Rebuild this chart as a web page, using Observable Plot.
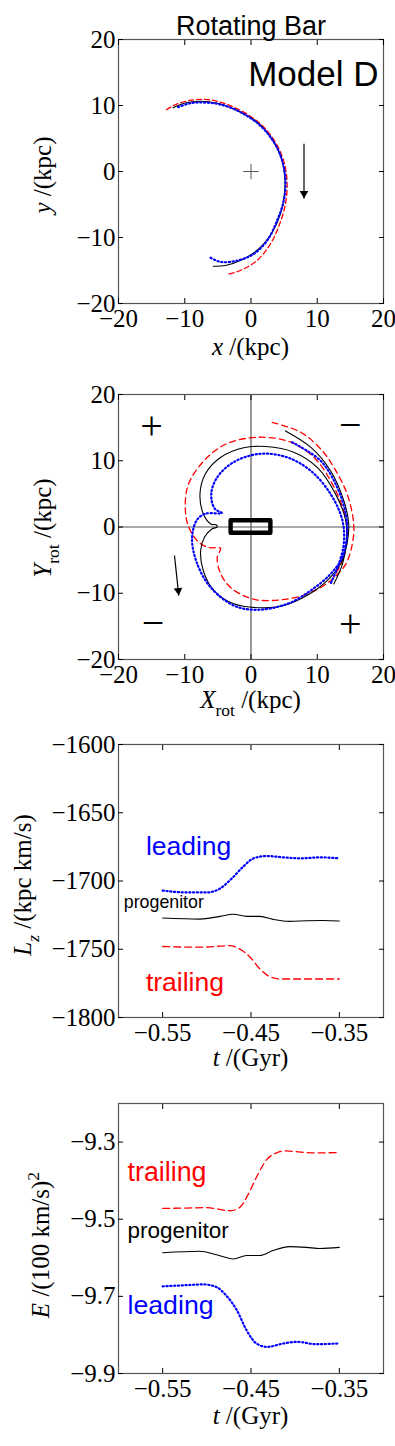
<!DOCTYPE html>
<html><head><meta charset="utf-8">
<script src="https://cdn.jsdelivr.net/npm/d3@7"></script>
<script src="https://cdn.jsdelivr.net/npm/@observablehq/plot@0.6"></script>
<style>
body{margin:0;background:#fff;}
#chart{width:395px;}
#chart svg{display:block;}
</style></head><body><div id="chart"></div>
<script>
// ---------- data ----------
const xyTicks = [-20, -10, 0, 10, 20];
const tTicks = [-0.55, -0.45, -0.35];
const lzTicks = [-1800, -1750, -1700, -1650, -1600];
const eTicks = [-9.9, -9.7, -9.5, -9.3];

// panel 1: inertial frame x-y (kpc)
const inertialProgenitor = [[-11.75,9.65],[-10.1,10.35],[-7.6,10.65],[-5.1,10.35],[-2.1,9.25],[0.9,7.5],[2.95,5.2],[4.45,2.4],[5.1,-0.85],[5.05,-3.4],[4.45,-6.4],[3.2,-9.2],[1.2,-11.7],[-1.6,-13.5],[-3.85,-14.25],[-5.7,-14.35]];
const inertialLeading = [[-11.0,9.75],[-9.1,10.35],[-7.1,10.45],[-4.6,10.15],[-1.6,9.0],[1.4,6.95],[3.45,4.45],[4.7,1.65],[5.2,-1.35],[4.95,-4.4],[3.95,-7.4],[2.45,-10.45],[0.4,-12.5],[-2.1,-13.5],[-4.6,-13.7],[-6.4,-12.9]];
const inertialTrailing = [[-12.75,9.35],[-11.15,10.25],[-8.6,10.85],[-6.1,10.85],[-3.6,10.15],[-0.6,8.7],[1.95,6.7],[3.95,3.95],[5.05,1.15],[5.45,-1.9],[5.2,-4.9],[4.35,-7.9],[2.95,-10.95],[0.9,-13.5],[-1.6,-15.0],[-3.7,-15.6]];
const centre = [[0, 0]];
const arrows1 = [{x1: 8, y1: 4.2, x2: 8, y2: -4.1}];

// panel 2: rotating frame X_rot-Y_rot (kpc)
const rotProgenitor = [[5.2,14.5],[9.0,12.05],[12.0,8.5],[14.0,4.0],[14.75,0.5],[14.5,-2.5],[13.5,-5.6],[11.5,-8.1],[8.5,-10.3],[4.95,-11.85],[1.9,-12.2],[-2.6,-11.6],[-5.6,-9.6],[-7.2,-6.6],[-7.6,-3.55],[-7.0,-1.5],[-5.9,-0.3],[-5.1,0.0],[-5.3,0.35],[-6.0,0.4],[-7.2,2.0],[-7.7,5.0],[-6.9,8.0],[-4.6,10.5],[-1.1,11.95],[2.2,12.15],[6.45,11.3],[10.0,9.0],[12.75,5.0],[14.3,1.0],[14.4,-2.5],[13.8,-5.6],[12.5,-8.6]];
const rotLeading = [[6.2,12.8],[10.5,10.0],[13.0,6.0],[14.3,2.0],[14.5,-1.0],[13.8,-4.55],[12.0,-7.1],[9.0,-9.6],[5.5,-11.6],[0.9,-12.5],[-2.6,-11.85],[-6.1,-9.1],[-8.1,-5.6],[-8.9,-1.8],[-8.2,1.0],[-6.9,2.0],[-4.4,2.1],[-5.5,2.8],[-6.0,5.0],[-5.1,7.5],[-2.6,9.8],[1.4,11.05],[5.5,10.5],[9.0,8.5],[12.0,5.0],[13.8,1.0],[14.0,-2.5],[13.25,-5.6],[12.0,-8.6]];
const rotTrailing = [[3.2,15.8],[7.5,14.3],[10.5,11.8],[12.5,9.0],[14.5,5.0],[15.5,0.5],[15.3,-2.5],[14.3,-5.6],[12.0,-8.1],[8.5,-10.1],[4.45,-11.0],[0.4,-10.9],[-3.0,-9.2],[-4.6,-7.0],[-5.1,-4.6],[-4.6,-3.2],[-6.4,-3.1],[-8.0,-2.2],[-9.4,0.0],[-9.9,2.5],[-9.5,6.3],[-7.1,10.0],[-3.6,12.6],[1.4,13.55],[6.0,12.8],[9.5,10.5],[12.0,7.0],[14.0,2.5],[14.5,-0.5],[14.0,-4.55],[12.5,-7.6]];
const bar = [{x1: -3.0, x2: 3.0, y1: -0.95, y2: 0.95}];
const signs = [{x: -15, y: 15.2, s: "+"}, {x: 15, y: 15.3, s: "\u2212"}, {x: -14.8, y: -14.5, s: "\u2212"}, {x: 15, y: -14.6, s: "+"}];
const arrows2 = [{x1: -11.55, y1: -4.3, x2: -10.9, y2: -10.35}];

// panel 3: Lz (kpc km/s) vs t (Gyr)
const lzLeading = [[-0.55,-1707],[-0.523,-1708.4],[-0.500,-1708.4],[-0.485,-1705.5],[-0.470,-1697],[-0.459,-1689.6],[-0.447,-1683.4],[-0.432,-1681.7],[-0.413,-1682.7],[-0.394,-1683.4],[-0.372,-1682.7],[-0.35,-1683.4]];
const lzProgenitor = [[-0.55,-1727.1],[-0.508,-1727.9],[-0.485,-1725.9],[-0.470,-1724.4],[-0.455,-1725.9],[-0.44,-1725.9],[-0.425,-1728.1],[-0.406,-1729.6],[-0.387,-1729.1],[-0.368,-1728.9],[-0.35,-1729.3]];
const lzTrailing = [[-0.55,-1748],[-0.508,-1748.5],[-0.474,-1747.4],[-0.463,-1749.7],[-0.451,-1755.8],[-0.44,-1764.4],[-0.429,-1770],[-0.417,-1771.8],[-0.394,-1771.8],[-0.35,-1771.8]];
const lzLabels = [{t: -0.569, v: -1681, s: "leading", c: "#0000ff", size: 26.5}, {t: -0.594, v: -1720, s: "progenitor", c: "#000", size: 17.8}, {t: -0.569, v: -1780.3, s: "trailing", c: "#ff0000", size: 26.5}];

// panel 4: E (100 km/s)^2 vs t (Gyr)
const eTrailing = [[-0.55,-9.472],[-0.523,-9.471],[-0.500,-9.470],[-0.474,-9.478],[-0.463,-9.470],[-0.453,-9.435],[-0.444,-9.392],[-0.432,-9.345],[-0.421,-9.328],[-0.410,-9.323],[-0.394,-9.326],[-0.376,-9.328],[-0.35,-9.327]];
const eProgenitor = [[-0.55,-9.587],[-0.508,-9.583],[-0.489,-9.592],[-0.470,-9.603],[-0.455,-9.594],[-0.44,-9.594],[-0.425,-9.581],[-0.406,-9.571],[-0.387,-9.573],[-0.372,-9.576],[-0.35,-9.573]];
const eLeading = [[-0.55,-9.674],[-0.523,-9.671],[-0.504,-9.669],[-0.489,-9.676],[-0.478,-9.698],[-0.466,-9.736],[-0.455,-9.788],[-0.444,-9.822],[-0.432,-9.831],[-0.413,-9.822],[-0.398,-9.818],[-0.376,-9.824],[-0.35,-9.822]];
const eLabels = [{t: -0.5898, v: -9.401, s: "trailing", c: "#ff0000", size: 26.8}, {t: -0.5898, v: -9.548, s: "progenitor", c: "#000", size: 22.5}, {t: -0.5898, v: -9.745, s: "leading", c: "#0000ff", size: 26.7}];

// ---------- styles ----------
const serif = "'Liberation Serif', 'Times New Roman', serif";
const sans = "'Liberation Sans', Arial, Helvetica, sans-serif";
const BLUE = "#0000ff", RED = "#ff0000";
const DOTS = "1.2,2.6";
const fmt = d => (d < 0 ? "\u2212" : "") + String(Math.abs(d));
const blank = () => "";

function axesFor(xt, yt) {
  return [
    Plot.frame({stroke: "#555", strokeWidth: 1.2}),
    Plot.axisX(xt, {anchor: "bottom", tickSize: -5, tickPadding: 11, tickFormat: fmt, label: null}),
    Plot.axisX(xt, {anchor: "top", tickSize: -5, tickFormat: blank, label: null}),
    Plot.axisY(yt, {anchor: "left", tickSize: -5, tickPadding: 8, tickFormat: fmt, label: null}),
    Plot.axisY(yt, {anchor: "right", tickSize: -5, tickFormat: blank, label: null})
  ];
}
function orbitLines(prog, lead, trail, dash) {
  const X = d => d[0], Y = d => d[1];
  return [
    Plot.line(trail, {x: X, y: Y, stroke: RED, strokeWidth: 1.3, strokeDasharray: dash, curve: "catmull-rom"}),
    Plot.line(prog, {x: X, y: Y, stroke: "#000", strokeWidth: 1.1, curve: "catmull-rom"}),
    Plot.line(lead, {x: X, y: Y, stroke: BLUE, strokeWidth: 2.2, strokeDasharray: DOTS, curve: "catmull-rom"})
  ];
}
function arrowMarks(arr) {
  const a = arr[0];
  const dx = a.x2 - a.x1, dy = -(a.y2 - a.y1);
  const len = Math.hypot(dx, dy), ux = dx / len, uy = dy / len;
  const r = 3.2, off = 1.555 * r;
  const rot = Math.atan2(dx, -dy) * 180 / Math.PI;
  return [
    Plot.link(arr, {x1: "x1", y1: "y1", x2: "x2", y2: "y2", stroke: "#000", strokeWidth: 1.2}),
    Plot.dot(arr, {x: "x2", y: "y2", symbol: "triangle", r, fill: "#000", stroke: "none", rotate: rot, dx: -ux * off, dy: -uy * off})
  ];
}
function mathLabel(svg, {x, y, rotate = 0, size = 25, parts}) {
  const t = d3.select(svg).append("text")
    .attr("transform", `translate(${x},${y}) rotate(${rotate})`)
    .attr("text-anchor", "middle").attr("font-family", serif)
    .attr("font-size", size).attr("fill", "#000");
  let shift = 0;
  for (const p of parts) {
    const s = p.sub ? 0.3 * size : p.sup ? -0.42 * size : 0;
    const ts = t.append("tspan").text(p.text);
    if (s !== shift) ts.attr("dy", s - shift);
    shift = s;
    if (p.italic) ts.attr("font-style", "italic");
    if (p.sub || p.sup) ts.attr("font-size", size * 0.7);
  }
}
const baseStyle = {fontFamily: serif, fontSize: "25px", background: "#fff", overflow: "visible", color: "#000"};
const chart = document.getElementById("chart");

// ---------- panel 1 ----------
{
  const svg = Plot.plot({
    width: 395, height: 370, marginLeft: 118, marginRight: 12, marginTop: 39, marginBottom: 67,
    x: {domain: [-20, 20]}, y: {domain: [-20, 20]}, style: baseStyle,
    marks: [
      ...axesFor(xyTicks, xyTicks),
      Plot.dot(centre, {x: d => d[0], y: d => d[1], symbol: "plus", r: 5, stroke: "#555", strokeWidth: 1}),
      ...orbitLines(inertialProgenitor, inertialLeading, inertialTrailing, "5,3"),
      ...arrowMarks(arrows1),
      Plot.text(["Rotating Bar"], {frameAnchor: "top", lineAnchor: "bottom", dy: -5, fontFamily: sans, fontSize: 27, fill: "#000"}),
      Plot.text(["Model D"], {frameAnchor: "top-right", textAnchor: "end", lineAnchor: "bottom", dx: -5, dy: 46, fontFamily: sans, fontSize: 35, fill: "#000"})
    ]
  });
  chart.append(svg);
  mathLabel(svg, {x: 250.5, y: 355, parts: [{text: "x", italic: true}, {text: " /(kpc)"}]});
  mathLabel(svg, {x: 51, y: 175, rotate: -90, parts: [{text: "y", italic: true}, {text: " /(kpc)"}]});
}

// ---------- panel 2 ----------
{
  const svg = Plot.plot({
    width: 395, height: 350, marginLeft: 118, marginRight: 12, marginTop: 24, marginBottom: 61,
    x: {domain: [-20, 20]}, y: {domain: [-20, 20]}, style: baseStyle,
    marks: [
      Plot.ruleX([0], {stroke: "#555", strokeWidth: 1.2}),
      Plot.ruleY([0], {stroke: "#555", strokeWidth: 1.2}),
      ...axesFor(xyTicks, xyTicks),
      Plot.text(signs, {x: "x", y: "y", text: "s", fontFamily: serif, fontSize: 40, fill: "#000"}),
      ...orbitLines(rotProgenitor, rotLeading, rotTrailing, "6,4"),
      Plot.rect(bar, {x1: "x1", x2: "x2", y1: "y1", y2: "y2", fill: "none", stroke: "#000", strokeWidth: 4.4, strokeLinejoin: "round"}),
      ...arrowMarks(arrows2)
    ]
  });
  chart.append(svg);
  mathLabel(svg, {x: 250.5, y: 338, parts: [{text: "X", italic: true}, {text: "rot", sub: true}, {text: " /(kpc)"}]});
  mathLabel(svg, {x: 51, y: 158, rotate: -90, parts: [{text: "Y", italic: true}, {text: "rot", sub: true}, {text: " /(kpc)"}]});
}

// ---------- time panels ----------
function timePanel({height, mt, mb, yDomain, yTicks, lead, prog, trail, labels, xlabY, ylab}) {
  const X = d => d[0], Y = d => d[1];
  const svg = Plot.plot({
    width: 395, height, marginLeft: 118, marginRight: 12, marginTop: mt, marginBottom: mb,
    x: {domain: [-0.6, -0.3]}, y: {domain: yDomain}, style: baseStyle,
    marks: [
      ...axesFor(tTicks, yTicks),
      Plot.line(trail, {x: X, y: Y, stroke: RED, strokeWidth: 1.3, strokeDasharray: "7,4", curve: "monotone-x"}),
      Plot.line(prog, {x: X, y: Y, stroke: "#000", strokeWidth: 1.1, curve: "monotone-x"}),
      Plot.line(lead, {x: X, y: Y, stroke: BLUE, strokeWidth: 2.2, strokeDasharray: DOTS, curve: "monotone-x"}),
      Plot.text(labels, {x: "t", y: "v", text: "s", fill: "c", fontSize: "size", textAnchor: "start", lineAnchor: "bottom", fontFamily: sans})
    ]
  });
  chart.append(svg);
  mathLabel(svg, {x: 250.5, y: xlabY, parts: [{text: "t", italic: true}, {text: " /(Gyr)"}]});
  mathLabel(svg, ylab);
}
timePanel({height: 360, mt: 24, mb: 63, yDomain: [-1800, -1600], yTicks: lzTicks,
  lead: lzLeading, prog: lzProgenitor, trail: lzTrailing, labels: lzLabels, xlabY: 346,
  ylab: {x: 31, y: 165, rotate: -90, parts: [{text: "L", italic: true}, {text: "z", italic: true, sub: true}, {text: " /(kpc km/s)"}]}});
timePanel({height: 366, mt: 23, mb: 73, yDomain: [-9.9, -9.2], yTicks: eTicks,
  lead: eLeading, prog: eProgenitor, trail: eTrailing, labels: eLabels, xlabY: 344,
  ylab: {x: 49, y: 165, rotate: -90, parts: [{text: "E", italic: true}, {text: " /(100 km/s)"}, {text: "2", sup: true}]}});
</script></body></html>
